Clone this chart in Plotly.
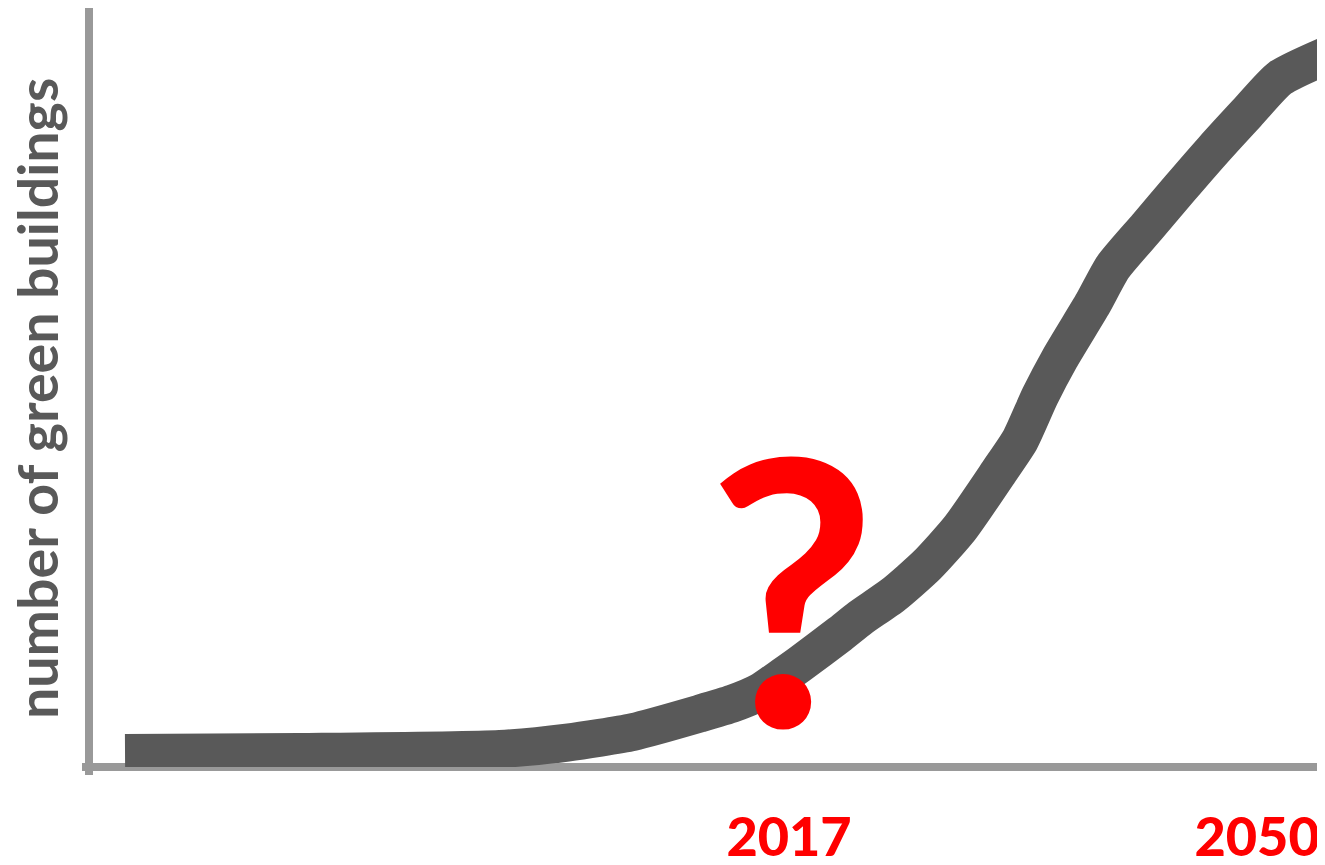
import plotly.graph_objects as go

# Data: projected number of green buildings (arbitrary index, 0-100) by year
years = [1970.18, 1982.52, 1996.62, 2001.35, 2006.00, 2010.72, 2013.05, 2014.95,
         2016.58, 2017.77, 2020.59, 2022.01, 2024.33, 2026.73, 2029.06,
         2031.88, 2033.29, 2034.70, 2036.11, 2038.44, 2039.84, 2042.24, 2044.57,
         2046.90, 2049.29, 2051.62, 2055.14]
buildings = [1.84, 1.97, 2.37, 3.22, 4.61, 7.04, 8.36, 9.87,
             11.97, 13.55, 17.50, 19.61, 22.63, 26.58, 31.45,
             39.08, 43.03, 48.82, 53.82, 61.05, 65.79, 71.05, 76.18,
             81.18, 86.05, 90.66, 93.82]
tick_years = [2017, 2050]
tick_labels = ["2017", "2050"]
y_title = "number of green buildings"
question = "?"

fig = go.Figure()
fig.add_trace(go.Scatter(
    x=years, y=buildings, mode="lines",
    line=dict(color="#595959", width=38, shape="spline", smoothing=0.6),
    hoverinfo="skip", showlegend=False,
))

axis_col = "#999999"
# the page body adds an 8px margin; the figure is sized to fit inside it
W, H = 1317, 849
ml, mr, mt, mb = 81, 0, 0, 90
pw = W - ml - mr
ph = H - mt - mb

fig.update_layout(
    width=W, height=H,
    margin=dict(l=ml, r=mr, t=mt, b=mb, pad=0, autoexpand=False),
    paper_bgcolor="white", plot_bgcolor="white",
    showlegend=False,
    xaxis=dict(
        range=[1967.64, 2054.79], showgrid=False, zeroline=False, showline=False,
        tickmode="array", tickvals=tick_years, ticktext=tick_labels,
        ticks="", ticklabelstandoff=34, automargin=False,
        tickfont=dict(family="Lato", size=54, color="#ff0000", weight=900),
        fixedrange=True,
    ),
    yaxis=dict(
        range=[0, 99.87], showgrid=False, zeroline=False, showline=False,
        showticklabels=False, ticks="", fixedrange=True, automargin=False,
    ),
    shapes=[
        dict(type="line", xref="paper", yref="paper",
             x0=0, x1=0, y0=-8 / ph, y1=1,
             line=dict(color=axis_col, width=8), layer="below"),
        dict(type="line", xref="paper", yref="paper",
             x0=-7 / pw, x1=1, y0=0, y1=0,
             line=dict(color=axis_col, width=8), layer="below"),
    ],
    annotations=[
        dict(text=y_title, xref="paper", yref="paper",
             x=(36 - 8 - ml) / pw, y=(ph - (399 - 8)) / ph,
             xanchor="center", yanchor="middle", textangle=-90, showarrow=False,
             font=dict(family="Lato", size=55.5, color="#595959", weight="bold")),
        dict(text=question, xref="x", yref="y", x=2017.2, y=24.1,
             xanchor="center", yanchor="middle", showarrow=False,
             font=dict(family="Lato", size=370, color="#ff0000", weight="bold")),
    ],
)

fig.write_html("out.html")
